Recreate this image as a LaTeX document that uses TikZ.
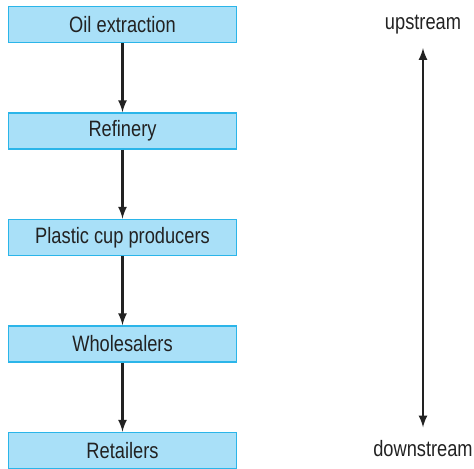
\documentclass[tikz,border=0pt]{standalone}
\usepackage{fontspec}
\setmainfont[FakeStretch=0.82]{Liberation Sans}
\definecolor{boxfill}{HTML}{A9E0F8}
\definecolor{boxline}{HTML}{2BB5E9}
\definecolor{inktext}{HTML}{222222}
\tikzset{
  stage/.style={draw=boxline,fill=boxfill,line width=1.5pt,
    minimum width=6.84cm,minimum height=1.08cm,inner sep=0pt,
    text=inktext,font=\fontsize{19}{21}\selectfont},
  label/.style={text=inktext,inner sep=0pt,font=\fontsize{19}{21}\selectfont},
  flow/.style={->,line width=2.4pt,draw=inktext}
}
\begin{document}
\begin{tikzpicture}[>=latex,x=0.03cm,y=-0.03cm]

\useasboundingbox (0,0) rectangle (474,468);

\node[stage]
(oil)
at (122.5,24.5)
{Oil extraction};

\node[stage]
(refinery)
at (122.5,131)
{Refinery};

\node[stage]
(cups)
at (122.5,237.5)
{Plastic cup producers};

\node[stage]
(wholesale)
at (122.5,344)
{Wholesalers};

\node[stage]
(retail)
at (122.5,450.5)
{Retailers};

\node[label]
(up)
at (423,25)
{upstream};

\node[label]
(down)
at (423,449)
{downstream};

\draw[flow]
(oil)--(refinery);

\draw[flow]
(refinery)--(cups);

\draw[flow]
(cups)--(wholesale);

\draw[flow]
(wholesale)--(retail);

\draw[flow,<->]
([yshift=-0.4cm]up.south)--([yshift=0.4cm]down.north);

\end{tikzpicture}
\end{document}
